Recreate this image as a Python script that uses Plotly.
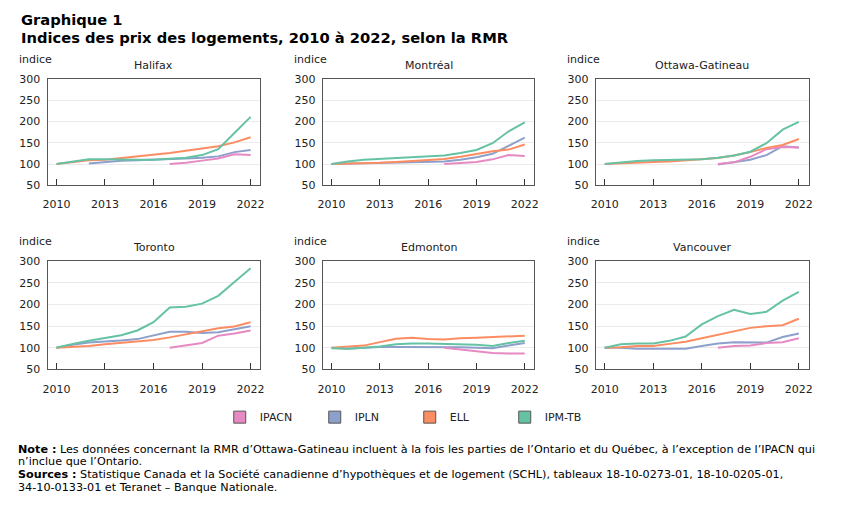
import plotly.graph_objects as go

years = list(range(2010, 2023))
cities = ["Halifax", "Montréal", "Ottawa-Gatineau", "Toronto", "Edmonton", "Vancouver"]
series_names = ["IPACN", "IPLN", "ELL", "IPM-TB"]
series_colors = ["#e78ac3", "#8da0cb", "#fc8d62", "#66c2a5"]
draw_order = [1, 0, 2, 3]
y_ticks = [50, 100, 150, 200, 250, 300]
x_ticks = [2010, 2013, 2016, 2019, 2022]
N = None

# IPACN
ipacn_halifax = [N, N, N, N, N, N, N, 100, 103, 108, 113, 123, 121]
ipacn_montreal = [N, N, N, N, N, N, N, 100, 102, 105, 111, 121, 119]
ipacn_ottawa = [N, N, N, N, N, N, N, 100, 104, 117, 135, 140, 139]
ipacn_toronto = [N, N, N, N, N, N, N, 100, 105, 111, 128, 133, 140]
ipacn_edmonton = [N, N, N, N, N, N, N, 100, 96, 92, 88, 87, 87]
ipacn_vancouver = [N, N, N, N, N, N, N, 100, 104, 105, 111, 113, 122]

# IPLN
ipln_halifax = [N, N, 101, 104, 108, 109, 110, 111, 113, 115, 118, 128, 133]
ipln_montreal = [100, 101, 101, 102, 103, 104, 105, 106, 110, 116, 124, 144, 162]
ipln_ottawa = [N, N, N, N, N, N, N, 99, 104, 110, 121, 142, 139]
ipln_toronto = [100, 107, 112, 114, 117, 120, 128, 137, 137, 134, 136, 143, 150]
ipln_edmonton = [100, 98, 100, 102, 102, 102, 102, 102, 101, 100, 99, 105, 111]
ipln_vancouver = [100, 100, 98, 98, 98, 98, 104, 110, 113, 112, 112, 125, 133]

# ELL
ell_halifax = [100, 104, 109, 110, 114, 118, 121, 126, 131, 136, 142, 151, 163]
ell_montreal = [100, 101, 101, 103, 105, 107, 110, 112, 117, 123, 130, 134, 146]
ell_ottawa = [100, 102, 104, 105, 106, 109, 111, 114, 120, 128, 138, 145, 159]
ell_toronto = [100, 102, 104, 108, 111, 114, 118, 124, 131, 139, 145, 149, 159]
ell_edmonton = [100, 102, 105, 113, 121, 123, 120, 119, 122, 123, 125, 126, 128]
ell_vancouver = [100, 101, 104, 104, 109, 114, 122, 130, 138, 146, 150, 152, 167]

# IPM-TB
ipm_halifax = [100, 105, 111, 111, 110, 110, 110, 113, 115, 121, 135, 173, 211]
ipm_montreal = [100, 106, 110, 112, 114, 115, 117, 120, 126, 133, 149, 177, 198]
ipm_ottawa = [100, 104, 107, 109, 110, 110, 111, 115, 120, 129, 149, 181, 199]
ipm_toronto = [100, 109, 116, 122, 129, 140, 159, 193, 195, 202, 220, 252, 284]
ipm_edmonton = [99, 98, 100, 103, 108, 110, 110, 109, 108, 107, 104, 111, 116]
ipm_vancouver = [100, 108, 110, 110, 116, 126, 154, 173, 188, 178, 183, 209, 229]

ipacn = [ipacn_halifax, ipacn_montreal, ipacn_ottawa, ipacn_toronto, ipacn_edmonton, ipacn_vancouver]
ipln = [ipln_halifax, ipln_montreal, ipln_ottawa, ipln_toronto, ipln_edmonton, ipln_vancouver]
ell = [ell_halifax, ell_montreal, ell_ottawa, ell_toronto, ell_edmonton, ell_vancouver]
ipm = [ipm_halifax, ipm_montreal, ipm_ottawa, ipm_toronto, ipm_edmonton, ipm_vancouver]
all_series = [ipacn, ipln, ell, ipm]

W, H = 863, 505
col_px = [(43, 258), (321, 535), (597, 812)]
row_px = [(75, 184), (262, 373)]

FONT = "DejaVu Sans"
fig = go.Figure()
layout = dict(
    width=W, height=H, margin=dict(l=0, r=0, t=0, b=0),
    paper_bgcolor="white", plot_bgcolor="white",
    font=dict(family=FONT, size=11, color="#222"),
    showlegend=True,
)
annotations = []

for i, city in enumerate(cities):
    r, c = divmod(i, 3)
    idx = "" if i == 0 else str(i + 1)
    x0, x1 = col_px[c]
    ytop, ybot = row_px[r]
    layout["xaxis" + idx] = dict(
        domain=[x0 / W, x1 / W], anchor="y" + idx, range=[2009.45, 2022.6],
        tickvals=x_ticks, ticktext=[str(t) for t in x_ticks],
        ticks="inside", ticklen=6, tickcolor="#333", tickwidth=1,
        showline=True, mirror=True, linecolor="#555", linewidth=1,
        showgrid=False, zeroline=False, ticklabelstandoff=9,
        tickfont=dict(size=11, color="#222"), fixedrange=True,
    )
    layout["yaxis" + idx] = dict(
        domain=[1 - ybot / H, 1 - ytop / H], anchor="x" + idx, range=[50, 300],
        tickvals=y_ticks, showline=True, mirror=True, linecolor="#555", linewidth=1,
        showgrid=True, gridcolor="#ebebeb", gridwidth=1, zeroline=False,
        ticks="", ticklabelstandoff=4, tickfont=dict(size=11, color="#222"), fixedrange=True,
    )
    for s in draw_order:
        fig.add_trace(go.Scatter(
            x=years, y=all_series[s][i], mode="lines", name=series_names[s],
            line=dict(color=series_colors[s], width=2),
            xaxis="x" + idx, yaxis="y" + idx, showlegend=False,
            connectgaps=False, hoverinfo="skip",
        ))
    annotations.append(dict(
        text=city, x=(x0 + x1) / 2 / W, y=1 - (ytop - 14) / H, xref="paper", yref="paper",
        xanchor="center", yanchor="middle", showarrow=False, font=dict(size=11, color="#222"),
    ))
    annotations.append(dict(
        text="indice", x=(x0 - 31) / W, y=1 - (ytop - 20) / H, xref="paper", yref="paper",
        xanchor="left", yanchor="middle", showarrow=False, font=dict(size=11, color="#222"),
    ))

for s, name in enumerate(series_names):
    fig.add_trace(go.Bar(
        x=[None], y=[None], name=name, marker=dict(color=series_colors[s], line=dict(color="#555", width=1)),
        xaxis="x", yaxis="y", showlegend=True,
    ))

layout["legend"] = dict(
    orientation="h", x=217 / W, xanchor="left", y=1 - 422 / H, yanchor="middle",
    entrywidth=50, entrywidthmode="pixels", font=dict(size=11, color="#222"),
    bgcolor="rgba(0,0,0,0)", itemwidth=30, traceorder="normal",
)

annotations.append(dict(text="<b>Graphique 1</b>", x=14 / W, y=1 - 14 / H, xref="paper", yref="paper",
                        xanchor="left", yanchor="middle", showarrow=False, font=dict(size=14.7, color="#000")))
annotations.append(dict(text="<b>Indices des prix des logements, 2010 à 2022, selon la RMR</b>", x=14 / W, y=1 - 32 / H,
                        xref="paper", yref="paper", xanchor="left", yanchor="middle", showarrow=False,
                        font=dict(size=14.7, color="#000")))

note_lines = [
    "<b>Note :</b> Les données concernant la RMR d’Ottawa-Gatineau incluent à la fois les parties de l’Ontario et du Québec, à l’exception de l’IPACN qui",
    "n’inclue que l’Ontario.",
    "<b>Sources :</b> Statistique Canada et la Société canadienne d’hypothèques et de logement (SCHL), tableaux 18-10-0273-01, 18-10-0205-01,",
    "34-10-0133-01 et Teranet – Banque Nationale.",
]
note_y = [455, 467.5, 481, 494]
for t, yy in zip(note_lines, note_y):
    annotations.append(dict(text=t, x=12 / W, y=1 - yy / H, xref="paper", yref="paper", xanchor="left",
                            yanchor="middle", showarrow=False, borderpad=0,
                            font=dict(family="DejaVu Sans", size=11.2, color="#000")))

layout["annotations"] = annotations
fig.update_layout(**layout)
fig.write_html("out.html")
